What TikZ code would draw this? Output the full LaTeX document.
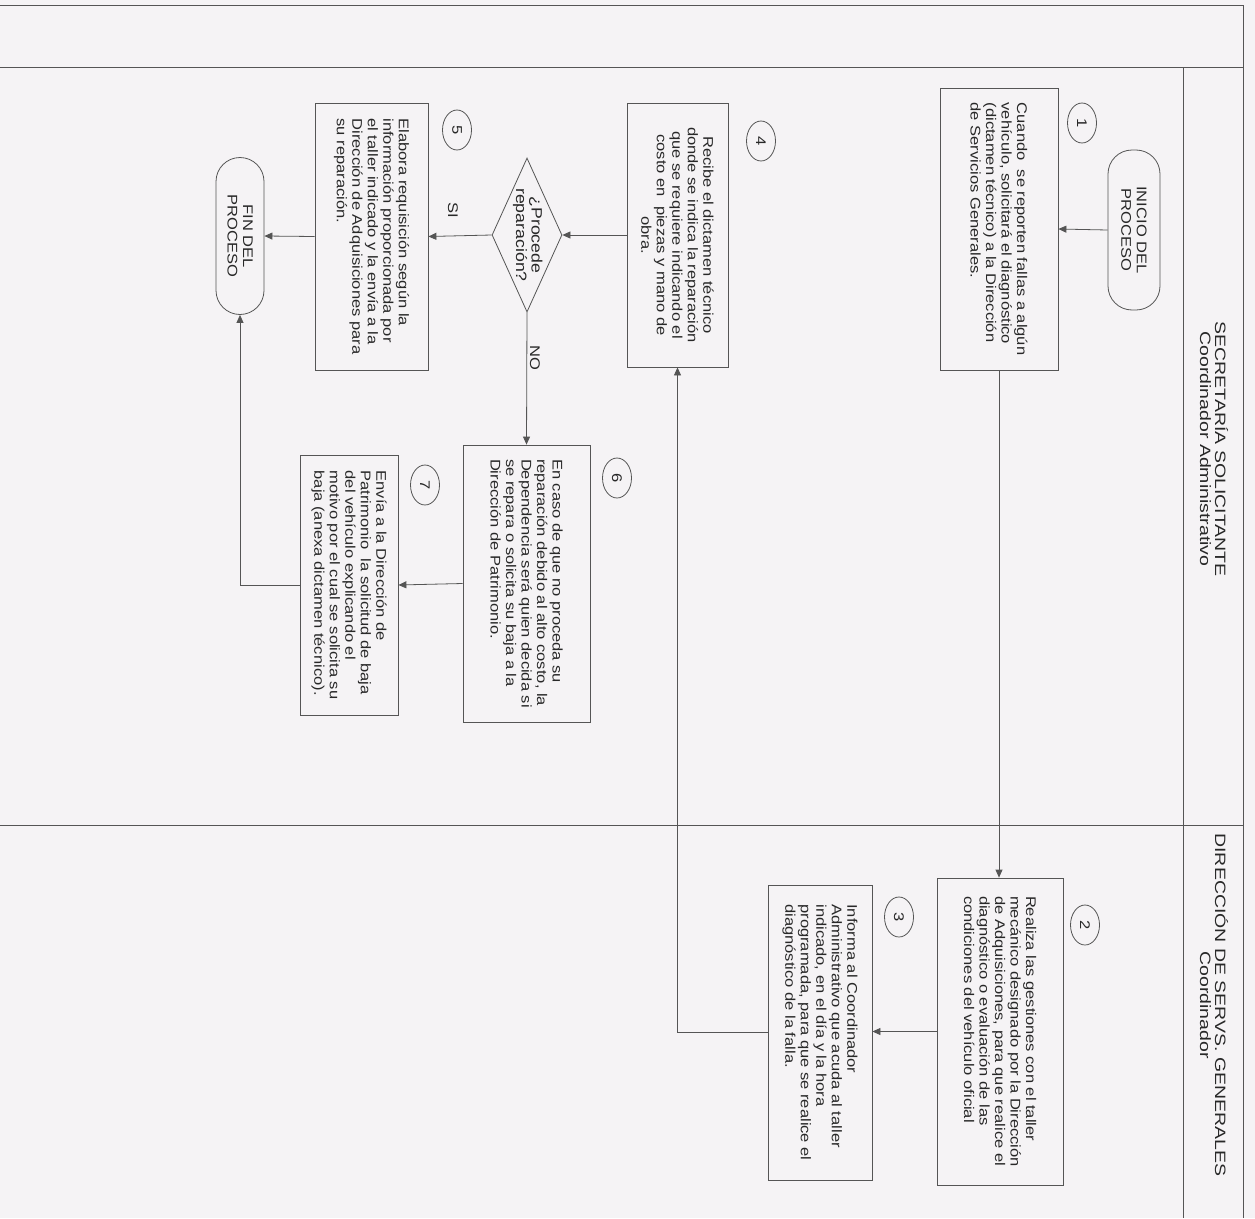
\documentclass[tikz,border=0pt]{standalone}
\usepackage{fontspec}
\setmainfont{Liberation Sans}[FakeStretch=1.18]
\newfontfamily\cabecera{Liberation Sans}[FakeStretch=1.3]
\usetikzlibrary{shapes.geometric,arrows.meta}
\definecolor{fondo}{RGB}{245,243,245}
\definecolor{linea}{RGB}{85,85,85}
\definecolor{texto}{RGB}{40,40,40}

\begin{document}
\begin{tikzpicture}[x=1pt,y=-1pt,line width=0.8pt,
  every node/.style={text=texto,font=\fontsize{14}{15.5}\selectfont},
  caja/.style={draw=linea,rotate=-90,align=left,inner sep=0pt},
  terminal/.style={draw=linea,rotate=-90,rounded corners=24pt,align=center,inner sep=0pt},
  numero/.style={draw=linea,ellipse,rotate=-90,minimum width=40pt,minimum height=29pt,inner sep=0pt},
  decision/.style={draw=linea,diamond,rotate=-90,minimum width=154pt,minimum height=70pt,inner sep=0pt},
  flecha/.style={draw=linea,-{Triangle[length=8pt,width=7pt]}},
  etiqueta/.style={rotate=-90}]
\fill[fondo] (0,0) rectangle (1255,1218);
\useasboundingbox (0,0) rectangle (1255,1218);

% marco y carriles
\draw[linea] (0,5) -- (1243,5) -- (1243,1218);
\draw[linea] (0,67) -- (1243,67);
\draw[linea] (0,825) -- (1243,825);
\draw[linea] (1183,67) -- (1183,1218);

\node[etiqueta,align=center,font=\cabecera\fontsize{15}{15}\selectfont] (sec) at (1214,449)
  {SECRETARÍA SOLICITANTE\\Coordinador Administrativo};
\node[etiqueta,align=center,font=\cabecera\fontsize{15}{15}\selectfont] (dir) at (1214,1005)
  {DIRECCIÓN DE SERVS. GENERALES\\Coordinador};

% pasos
\node[terminal,minimum width=160pt,minimum height=52pt] (ini) at (1134,230) {INICIO DEL\\PROCESO};
\node[caja,minimum width=282pt,minimum height=118pt] (c1) at (999,229)
  {Cuando\ \ se reporten fallas a algún\\vehículo, solicitará el diagnóstico\\(dictamen técnico) a la Dirección\\de Servicios Generales.};
\node[caja,minimum width=307pt,minimum height=126pt] (c2) at (1000,1031.5)
  {Realiza las gestiones con el taller\\mecánico designado por la Dirección\\de Adquisiciones, para que realice el\\diagnóstico o evaluación de las\\condiciones del vehículo oficial};
\node[caja,minimum width=295pt,minimum height=104pt] (c3) at (820,1032.5)
  {Informa al Coordinador\\Administrativo que acuda al taller\\indicado, en el día y la hora\\programada, para que se realice el\\diagnóstico de la falla.};
\node[caja,align=center,minimum width=264pt,minimum height=101pt] (c4) at (677.5,235)
  {Recibe el dictamen técnico\\donde se indica la reparación\\que se requiere indicando el\\costo en\ \ piezas y mano de\\obra.};
\node[decision] (dec) at (527,235)
  {\makebox[0pt]{\fontsize{15}{15}\selectfont\begin{tabular}{@{}c@{}}¿Procede\\reparación?\end{tabular}}};
\node[caja,minimum width=267pt,minimum height=113pt] (c5) at (371.5,236.5)
  {Elabora requisición según la\\información proporcionada por\\el taller indicado y la envía a la\\Dirección de Adquisiciones para\\su reparación.};
\node[caja,minimum width=277pt,minimum height=127pt] (c6) at (526.5,583.5)
  {En caso de que no proceda su\\reparación debido al alto costo, la\\Dependencia será quien decida si\\se repara o solicita su baja a la\\Dirección de Patrimonio.};
\node[caja,minimum width=260pt,minimum height=98pt] (c7) at (349,585)
  {Envía a la Dirección de\\Patrimonio\ \ la solicitud de baja\\del vehículo explicando el\\motivo por el cual se solicita su\\baja (anexa dictamen técnico).};
\node[terminal,minimum width=157pt,minimum height=48pt] (fin) at (240,236) {FIN DEL\\PROCESO};

% numeros
\node[numero] (n1) at (1082,123) {1};
\node[numero] (n2) at (1085,925) {2};
\node[numero] (n3) at (899,917) {3};
\node[numero] (n4) at (761,141) {4};
\node[numero] (n5) at (457,130) {5};
\node[numero] (n6) at (617,478) {6};
\node[numero] (n7) at (425,485) {7};

% flujo
\draw[flecha] (ini.south) -- (c1.north);
\draw[flecha] (c1.east) -- (c1.east |- c2.west);
\draw[flecha] (c2.south) -- (c2.south -| c3.north);
\draw[flecha] (c3.south) -| (c4.east);
\draw[flecha] (c4.south) -- (dec.north);
\draw[flecha] (dec.south) -- (c5.north);
\draw[flecha] (dec.east) -- (c6.west);
\draw[flecha] (c5.south) -- (fin.north);
\draw[flecha] (c6.south) -- (c7.north);
\draw[flecha] (c7.south) -| (fin.east);

\node[etiqueta] (si) at (453,210) {SI};
\node[etiqueta] (no) at (535,358) {NO};
\end{tikzpicture}
\end{document}
